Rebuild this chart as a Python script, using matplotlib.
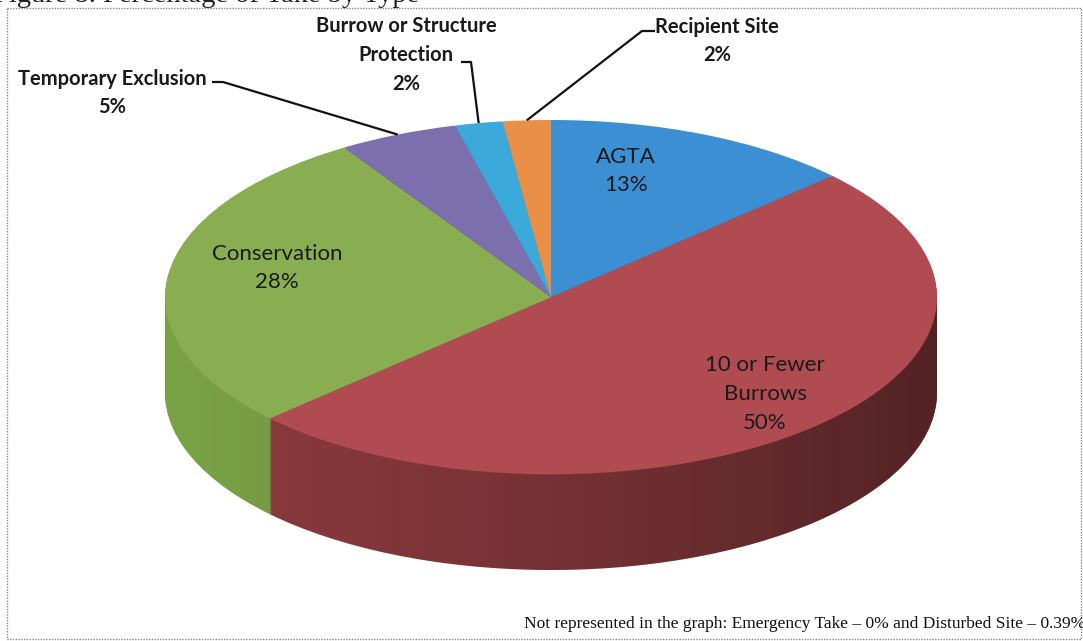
import numpy as np
import matplotlib
matplotlib.use('Agg')
import matplotlib.pyplot as plt
from matplotlib.patches import Rectangle, PathPatch
from matplotlib.path import Path

# ---- data ----
labels = ['AGTA', '10 or Fewer\nBurrows', 'Conservation', 'Temporary Exclusion',
          'Burrow or Structure\nProtection', 'Recipient Site']
shares = [13, 50, 28, 5, 2, 2]
top_colors = ['#3d8fd3', '#b04c51', '#88ae51', '#7c6fae', '#3ba9d9', '#e98f48']
side_colors = ['#30709f', '#8a3a3d', '#78a044', '#5f5390', '#2d84ab', '#b86e35']
footnote = 'Not represented in the graph: Emergency Take \u2013 0% and Disturbed Site \u2013 0.39%'
title = 'Figure 8. Percentage of Take by Type'

W, H = 1083, 641
fig = plt.figure(figsize=(W / 100, H / 100), dpi=100)
fig.patch.set_facecolor('white')

# pie axes: unit circle squashed into the tilted top face, extra room below for the rim
depth = 0.54
px_l, px_r, px_t, px_b = 165, 937, 120, 570
ax = fig.add_axes([px_l / W, 1 - px_b / H, (px_r - px_l) / W, (px_b - px_t) / H])

n_layers = 60
for k in range(n_layers, 0, -1):
    ax.pie(shares, colors=side_colors, startangle=90, counterclock=False,
           center=(0, -depth * k / n_layers), wedgeprops=dict(linewidth=0))

# shading of the rim, darker towards the right
t = np.linspace(0, np.pi, 200)
rim = np.vstack([np.column_stack([-np.cos(t), -np.sin(t) - depth]), [[1, 0], [-1, 0]]])
clip = PathPatch(Path(rim), transform=ax.transData, facecolor='none', edgecolor='none')
ax.add_patch(clip)
grad = np.linspace(0, 1, 256).reshape(1, -1)
shade = np.zeros((1, 256, 4))
shade[..., 3] = 0.40 * grad ** 1.4
ax.imshow(shade, extent=(-1, 1, -1 - depth, 0), aspect='auto', zorder=5,
          clip_path=clip, interpolation='bilinear')

wedges, _ = ax.pie(shares, colors=top_colors, startangle=90, counterclock=False,
                   center=(0, 0), wedgeprops=dict(linewidth=0))
for w in wedges:
    w.set_zorder(10)
ax.set_aspect('auto')
ax.set_xlim(-1, 1)
ax.set_ylim(-1 - depth, 1)
ax.axis('off')

# overlay axes in pixel units for labels, leaders and frame
ov = fig.add_axes([0, 0, 1, 1], facecolor='none')
ov.set_xlim(0, W)
ov.set_ylim(H, 0)
ov.axis('off')

lab_font = dict(family=['Lato', 'DejaVu Sans'], color='#1a1a1a', ha='center', va='center')
pct = [f'{v}%' for v in shares]

# inside labels
inner = dict(lab_font, fontsize=16, linespacing=1.55)
ov.text(626, 171, f'{labels[0]}\n{pct[0]}', **inner)
ov.text(277, 268, f'{labels[2]}\n{pct[2]}', **inner)
ov.text(765, 394, f'{labels[1]}\n{pct[1]}', **inner)

# outside labels with leader lines
bold = dict(lab_font, fontweight='bold', fontsize=14.5, linespacing=1.55)
ov.text(112, 93, f'{labels[3]}\n{pct[3]}', **bold)
ov.text(406, 55, f'{labels[4]}\n{pct[4]}', **bold)
ov.text(717, 41, f'{labels[5]}\n{pct[5]}', **bold)

cum = np.cumsum([0] + shares)
mids = (cum[:-1] + cum[1:]) / 2 / 100.0
to_ov = ax.transData + ov.transData.inverted()

def rim_point(i):
    ang = np.pi / 2 - 2 * np.pi * mids[i]
    return to_ov.transform((np.cos(ang), np.sin(ang)))

starts = {3: ((212, 82), (223, 82)), 4: ((461, 62), (471, 62)), 5: ((655, 31), (642, 31))}
for i, (p0, p1) in starts.items():
    end = rim_point(i)
    ov.plot([p0[0], p1[0], end[0]], [p0[1], p1[1], end[1]], color='#111111', lw=1.6,
            solid_capstyle='butt', zorder=20)

# footnote
ov.text(1085, 624, footnote, ha='right', va='center', fontsize=12.5,
        family=['Liberation Serif', 'DejaVu Serif'], color='#111111')

# cut off figure caption at the top of the scan
ov.text(-7, 2, title, ha='left', va='baseline', fontsize=20.5,
        family=['Liberation Serif', 'DejaVu Serif'], color='#222222', clip_on=True)

# dotted chart border
ov.add_patch(Rectangle((7, 8), W - 9, H - 10, fill=False, edgecolor='#8a8a8a',
                       lw=1.0, ls=(0, (1, 1))))

fig.savefig('out.png', dpi=100)
